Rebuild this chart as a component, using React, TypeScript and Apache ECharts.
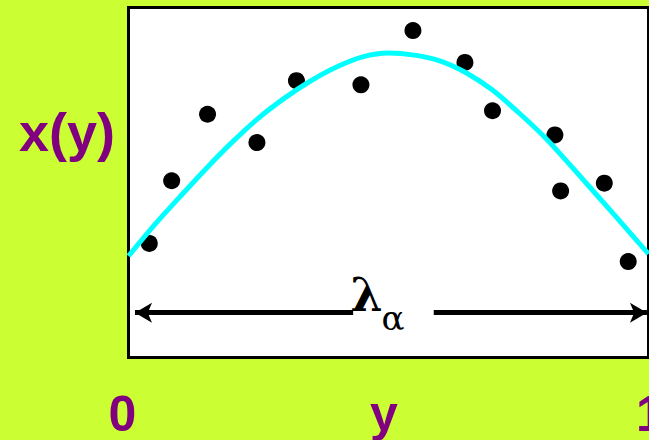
import React, { useEffect, useRef } from "react";
import * as echarts from "echarts";

// Fitted profile x(y), sampled along y in [0, 1]
const curveY: number[] = [0, 0.05, 0.1, 0.15, 0.2, 0.25, 0.3, 0.35, 0.4, 0.45, 0.5, 0.55, 0.6, 0.65, 0.7, 0.75, 0.8, 0.85, 0.9, 0.95, 1];
const curveX: number[] = [0.29, 0.379, 0.461, 0.541, 0.616, 0.684, 0.741, 0.79, 0.83, 0.859, 0.87, 0.864, 0.847, 0.813, 0.764, 0.7, 0.63, 0.549, 0.465, 0.381, 0.296];

// Measured samples
const sampleY: number[] = [0.04, 0.083, 0.152, 0.247, 0.323, 0.447, 0.547, 0.647, 0.7, 0.82, 0.831, 0.915, 0.961];
const sampleX: number[] = [0.326, 0.505, 0.695, 0.614, 0.791, 0.779, 0.934, 0.843, 0.705, 0.636, 0.476, 0.498, 0.274];

// Span of the wavelength arrow (two halves around the label)
const arrowLevel = 0.128;
const arrowLeft: [number, number] = [0.0125, 0.432];
const arrowRight: [number, number] = [0.587, 0.997];

const BG = "#CCFF33";
const PURPLE = "#800080";

export default function App() {
  const ref = useRef<HTMLDivElement>(null);

  useEffect(() => {
    if (!ref.current) return;
    const chart = echarts.init(ref.current, null, { renderer: "svg" });
    const sans = "'Liberation Sans', Arial, sans-serif";
    const serif = "'DejaVu Serif', 'Liberation Serif', serif";

    chart.setOption({
      animation: false,
      backgroundColor: BG,
      grid: {
        left: 128.5,
        top: 7.5,
        width: 520,
        height: 350,
        show: true,
        backgroundColor: "#fff",
        borderColor: "#000",
        borderWidth: 3,
      },
      xAxis: { type: "value", min: 0, max: 1, show: false },
      yAxis: { type: "value", min: 0, max: 1, show: false },
      series: [
        {
          type: "scatter",
          data: sampleY.map((y, i) => [y, sampleX[i]]),
          symbol: "circle",
          symbolSize: 17,
          itemStyle: { color: "#000", opacity: 1 },
          z: 2,
          markLine: {
            silent: true,
            symbolSize: [15, 17],
            lineStyle: { color: "#000", width: 5, type: "solid", opacity: 1 },
            label: { show: false },
            data: [
              [
                { coord: [arrowLeft[0], arrowLevel], symbol: "arrow" },
                { coord: [arrowLeft[1], arrowLevel], symbol: "none" },
              ],
              [
                { coord: [arrowRight[0], arrowLevel], symbol: "none" },
                { coord: [arrowRight[1], arrowLevel], symbol: "arrow" },
              ],
            ],
          },
        },
        {
          type: "line",
          data: curveY.map((y, i) => [y, curveX[i]]),
          smooth: 0.3,
          showSymbol: false,
          lineStyle: { color: "#00FFFF", width: 5 },
          z: 3,
        },
      ],
      graphic: [
        {
          type: "text",
          x: 67,
          y: 132,
          style: { text: "x(y)", font: `bold 54px ${sans}`, fill: PURPLE, align: "center", verticalAlign: "middle" },
        },
        {
          type: "text",
          x: 122.5,
          y: 414,
          style: { text: "0", font: `bold 50px ${sans}`, lineHeight: 40, fill: PURPLE, align: "center", verticalAlign: "middle" },
        },
        {
          type: "text",
          x: 384,
          y: 414,
          style: { text: "y", font: `bold 50px ${sans}`, lineHeight: 40, fill: PURPLE, align: "center", verticalAlign: "middle" },
        },
        {
          type: "text",
          x: 650,
          y: 414,
          style: { text: "1", font: `bold 50px ${sans}`, lineHeight: 40, fill: PURPLE, align: "center", verticalAlign: "middle" },
        },
        {
          type: "text",
          x: 366.5,
          y: 295,
          z: 10,
          style: { text: "λ", font: `bold 46px ${serif}`, fill: "#000", align: "center", verticalAlign: "middle" },
        },
        {
          type: "text",
          x: 393,
          y: 318,
          z: 10,
          style: { text: "α", font: `34px ${serif}`, fill: "#000", align: "center", verticalAlign: "middle" },
        },
      ],
    });

    return () => chart.dispose();
  }, []);

  return (
    <div style={{ position: "fixed", left: 0, top: 0, width: 649, height: 440, background: BG }}>
      <div ref={ref} style={{ width: 649, height: 440 }} />
    </div>
  );
}
